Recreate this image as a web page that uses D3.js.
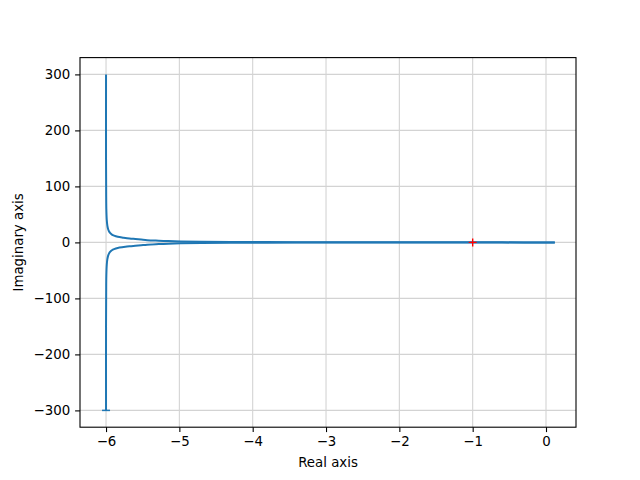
<!DOCTYPE html>
<html>
<head>
<meta charset="utf-8">
<script src="https://cdn.jsdelivr.net/npm/d3@7"></script>
<style>
  body { margin: 0; background: #fff; }
  text { font-family: "DejaVu Sans", sans-serif; }
</style>
</head>
<body>
<svg width="640" height="480"></svg>
<script>
// Nyquist curve, upper branch
const upperRe = [-6.00, -6.00, -5.998, -5.996, -5.99, -5.982, -5.972, -5.96, -5.945, -5.92, -5.89, -5.84, -5.76, -5.68, -5.60, -5.52, -5.44, -5.28, -5.15, -4.98, -4.7, -4.3, -3.8, -3.2, -2.6, -2.0, -1.5, -1.0, -0.6, -0.3, -0.1, 0.0, 0.06, 0.1, 0.12];
const upperIm = [300, 150, 90, 60, 40, 30, 24, 20, 17, 14, 12, 10, 8.4, 7, 6, 5, 4, 3, 2.3, 1.7, 1.2, 0.8, 0.5, 0.35, 0.25, 0.18, 0.12, 0.08, 0.05, 0.03, 0.015, 0.008, 0.004, 0.002, 0];
// lower branch (mirror image)
const lowerRe = [-6.00, -6.00, -5.998, -5.996, -5.99, -5.982, -5.972, -5.96, -5.945, -5.92, -5.89, -5.84, -5.76, -5.68, -5.60, -5.52, -5.44, -5.28, -5.15, -4.98, -4.7, -4.3, -3.8, -3.2, -2.6, -2.0, -1.5, -1.0, -0.6, -0.3, -0.1, 0.0, 0.06, 0.1, 0.12];
const lowerIm = [-300, -150, -90, -60, -40, -30, -24, -20, -17, -14, -12, -10, -8.4, -7, -6, -5, -4, -3, -2.3, -1.7, -1.2, -0.8, -0.5, -0.35, -0.25, -0.18, -0.12, -0.08, -0.05, -0.03, -0.015, -0.008, -0.004, -0.002, 0];
// critical point
const critical = [-1, 0];

const xTicks = [-6, -5, -4, -3, -2, -1, 0];
const yTicks = [-300, -200, -100, 0, 100, 200, 300];

const svg = d3.select("svg");
const margin = {left: 80, right: 64, top: 57.6, bottom: 52.8};
const W = 640, H = 480;

const x = d3.scaleLinear().domain([-6.355, 0.409]).range([margin.left, W - margin.right]);
const y = d3.scaleLinear().domain([-330, 330]).range([H - margin.bottom, margin.top]);

const fmt = d => (d < 0 ? "\u2212" + Math.abs(d) : String(d));

// grid
const grid = svg.append("g");
grid.selectAll(".gx").data(xTicks).enter().append("line")
  .attr("x1", d => x(d)).attr("x2", d => x(d))
  .attr("y1", margin.top).attr("y2", H - margin.bottom)
  .attr("stroke", "#d3d3d3").attr("stroke-width", 1.1);
grid.selectAll(".gy").data(yTicks).enter().append("line")
  .attr("y1", d => y(d)).attr("y2", d => y(d))
  .attr("x1", margin.left).attr("x2", W - margin.right)
  .attr("stroke", "#d3d3d3").attr("stroke-width", 1.1);

// curves
const line = d3.line().curve(d3.curveCatmullRom).x(d => x(d[0])).y(d => y(d[1]));
const upper = upperRe.map((r, i) => [r, upperIm[i]]);
const lower = lowerRe.map((r, i) => [r, lowerIm[i]]);

svg.append("path").datum(upper).attr("d", line)
  .attr("fill", "none").attr("stroke", "#1f77b4").attr("stroke-width", 2);
svg.append("path").datum(lower).attr("d", line)
  .attr("fill", "none").attr("stroke", "#1f77b4").attr("stroke-width", 2);

// small end tick at bottom of lower branch
svg.append("line")
  .attr("x1", x(lowerRe[0]) - 4).attr("x2", x(lowerRe[0]) + 4)
  .attr("y1", y(lowerIm[0])).attr("y2", y(lowerIm[0]))
  .attr("stroke", "#1f77b4").attr("stroke-width", 1.5);

// red + at -1
const cx = x(critical[0]), cy = y(critical[1]);
svg.append("path")
  .attr("d", `M${cx - 4},${cy}H${cx + 4}M${cx},${cy - 4}V${cy + 4}`)
  .attr("stroke", "red").attr("stroke-width", 1.4).attr("fill", "none");

// axes
const xAxis = svg.append("g")
  .attr("transform", `translate(0,${H - margin.bottom})`)
  .call(d3.axisBottom(x).tickValues(xTicks).tickFormat(fmt).tickSize(4.9).tickPadding(4.9));
const yAxis = svg.append("g")
  .attr("transform", `translate(${margin.left},0)`)
  .call(d3.axisLeft(y).tickValues(yTicks).tickFormat(fmt).tickSize(4.9).tickPadding(4.9));

[xAxis, yAxis].forEach(a => {
  a.select(".domain").remove();
  a.selectAll("line").attr("stroke", "#000").attr("stroke-width", 1.1);
  a.selectAll("text").attr("font-size", 13.33).attr("fill", "#000")
    .attr("font-family", "DejaVu Sans");
});

// frame
svg.append("rect")
  .attr("x", margin.left).attr("y", margin.top)
  .attr("width", W - margin.left - margin.right)
  .attr("height", H - margin.top - margin.bottom)
  .attr("fill", "none").attr("stroke", "#000").attr("stroke-width", 1.1);

// labels
svg.append("text")
  .attr("x", (margin.left + W - margin.right) / 2).attr("y", 467)
  .attr("text-anchor", "middle").attr("font-size", 13.33)
  .text("Real axis");
svg.append("text")
  .attr("transform", `translate(23,${(margin.top + H - margin.bottom) / 2}) rotate(-90)`)
  .attr("text-anchor", "middle").attr("font-size", 13.33)
  .text("Imaginary axis");
</script>
</body>
</html>
